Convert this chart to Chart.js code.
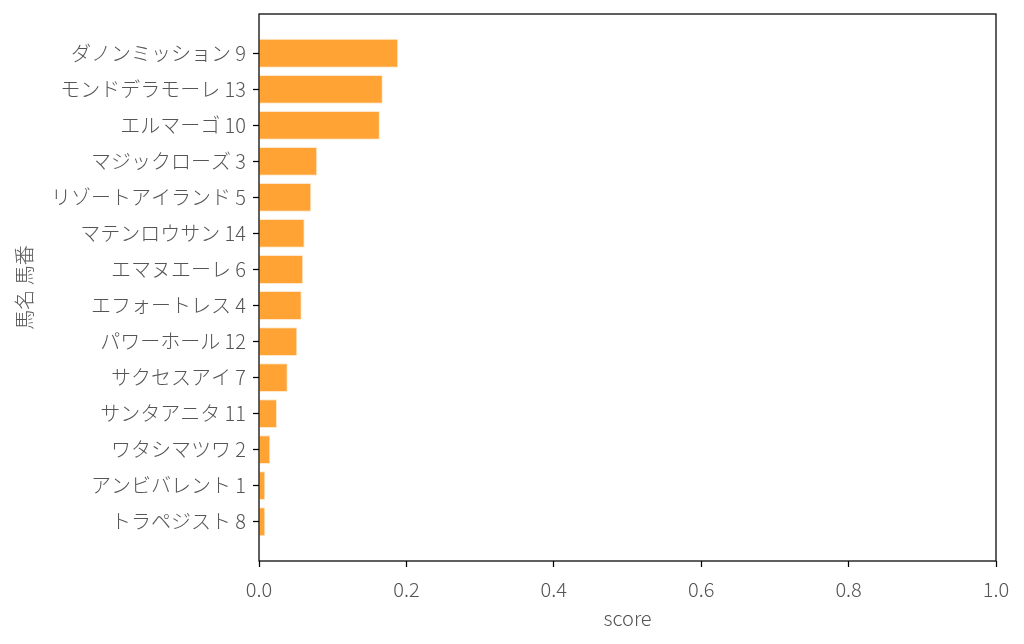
<!DOCTYPE html>
<html>
<head>
<meta charset="utf-8">
<script src="https://cdn.jsdelivr.net/npm/chart.js@4/dist/chart.umd.min.js"></script>
<style>
  html, body { margin: 0; padding: 0; background: #fff; }
  canvas { display: block; }
</style>
</head>
<body>
<canvas id="scoreChart" width="1024" height="644"></canvas>
<script>
// horses, top to bottom
const horseLabels = [
    'ダノンミッション 9', 'モンドデラモーレ 13', 'エルマーゴ 10', 'マジックローズ 3',
    'リゾートアイランド 5', 'マテンロウサン 14', 'エマヌエーレ 6', 'エフォートレス 4',
    'パワーホール 12', 'サクセスアイ 7', 'サンタアニタ 11', 'ワタシマツワ 2',
    'アンビバレント 1', 'トラペジスト 8'
];
const scores = [
    0.189, 0.168, 0.164, 0.079,
    0.071, 0.062, 0.060, 0.058,
    0.052, 0.039, 0.0245, 0.0154,
    0.0086, 0.0086
];
const xTicks = [0, 0.2, 0.4, 0.6, 0.8, 1.0];

const FONT = '"Noto Sans CJK JP", "Noto Sans", sans-serif';
const TEXT = '#555555';
const SIZE = 20;

// matplotlib-style frame round the plot area
const framePlugin = {
    id: 'frame',
    afterDraw(chart) {
        const { ctx, chartArea: a } = chart;
        ctx.save();
        ctx.strokeStyle = '#000';
        ctx.lineWidth = 1.25;
        ctx.strokeRect(a.left, a.top, a.right - a.left, a.bottom - a.top);
        ctx.restore();
    }
};

const ctx = document.getElementById('scoreChart').getContext('2d');
new Chart(ctx, {
    type: 'bar',
    data: {
        datasets: [{
            data: scores.map((s, i) => ({ x: s, y: i })),
            backgroundColor: '#FFA334',
            borderColor: 'rgba(255, 230, 200, 0.9)',
            borderWidth: 1,
            barPercentage: 0.8,
            categoryPercentage: 1.0
        }]
    },
    options: {
        indexAxis: 'y',
        responsive: false,
        animation: false,
        devicePixelRatio: 1,
        layout: { padding: { left: 0, right: 28, top: 14, bottom: 0 } },
        plugins: {
            legend: { display: false },
            tooltip: { enabled: false }
        },
        scales: {
            x: {
                type: 'linear',
                min: 0,
                max: 1,
                afterBuildTicks: axis => { axis.ticks = xTicks.map(v => ({ value: v })); },
                afterFit: axis => {
                    axis.height = 83;
                    axis.paddingLeft = 0;
                    axis.paddingRight = 0;
                },
                border: { display: false },
                grid: { drawOnChartArea: false, drawTicks: true, tickLength: 6, tickColor: '#000', tickWidth: 1.25 },
                ticks: {
                    color: TEXT,
                    padding: 10,
                    maxRotation: 0,
                    font: { family: FONT, size: SIZE, weight: 300 },
                    callback: v => v.toFixed(1)
                },
                title: {
                    display: true,
                    text: 'score',
                    color: TEXT,
                    padding: { top: 0, bottom: 14 },
                    font: { family: FONT, size: SIZE, weight: 300 }
                }
            },
            y: {
                type: 'linear',
                reverse: true,
                offset: false,
                min: -1.09,
                max: horseLabels.length - 1 + 1.09,
                afterBuildTicks: axis => { axis.ticks = horseLabels.map((_, i) => ({ value: i })); },
                afterFit: axis => {
                    axis.width = 259;
                    axis.paddingTop = 0;
                    axis.paddingBottom = 0;
                },
                border: { display: false },
                grid: { offset: false, drawOnChartArea: false, drawTicks: true, tickLength: 6, tickColor: '#000', tickWidth: 1.25 },
                ticks: {
                    color: TEXT,
                    padding: 7,
                    autoSkip: false,
                    font: { family: FONT, size: SIZE, weight: 300 },
                    callback: v => horseLabels[v]
                },
                title: {
                    display: true,
                    text: '馬名 馬番',
                    color: TEXT,
                    padding: { top: 12, bottom: 0 },
                    font: { family: FONT, size: SIZE, weight: 300 }
                }
            }
        }
    },
    plugins: [framePlugin]
});
</script>
</body>
</html>
